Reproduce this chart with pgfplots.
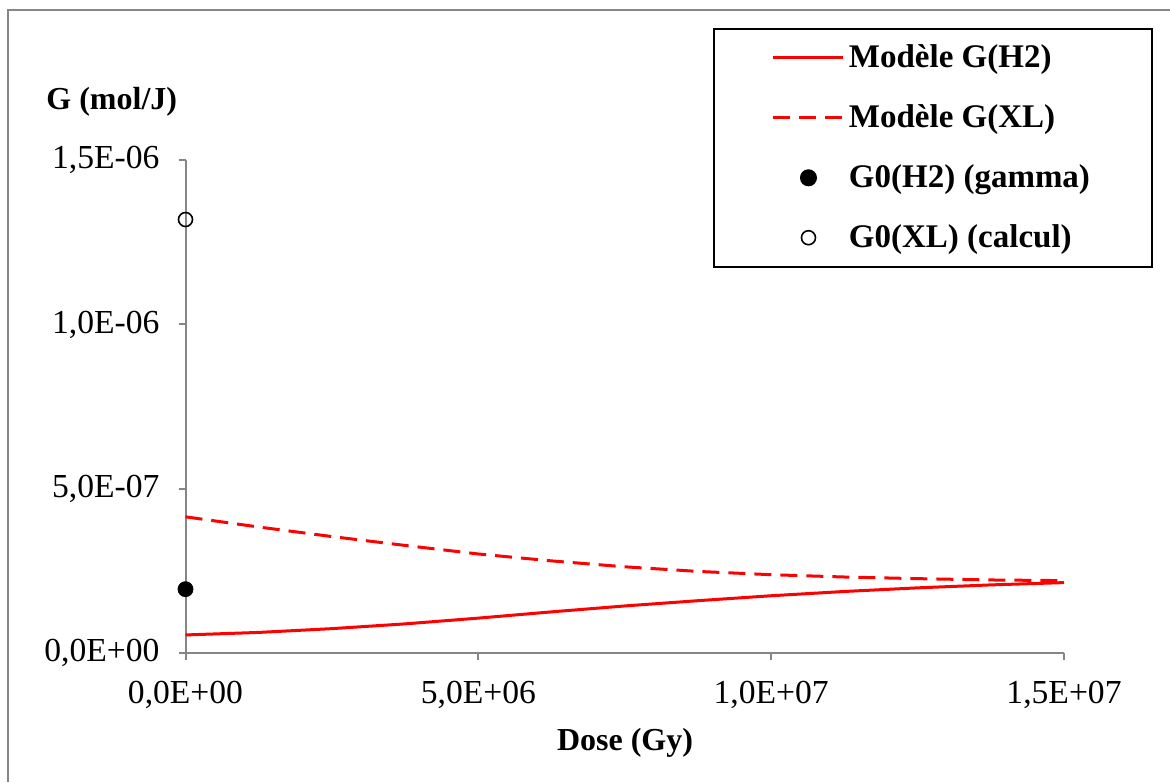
\documentclass[border=0pt]{standalone}
\usepackage{fontspec}
\setmainfont{Liberation Serif}
\usepackage{pgfplots}
\pgfplotsset{compat=1.18}
\definecolor{axgray}{HTML}{868686}

\begin{document}
\begin{tikzpicture}
\useasboundingbox (0,0) rectangle (585pt,391pt);
% cropped outer frame
\draw[axgray, line width=1pt] (4pt,0) -- (4pt,386pt) -- (585pt,386pt);

\begin{axis}[
    at={(92.75pt,64.35pt)}, anchor=south west,
    scale only axis, width=439.25pt, height=246.65pt,
    xmin=0, xmax=1.5e7, ymin=0, ymax=1.5e-6,
    axis x line*=bottom, axis y line*=left,
    axis line style={axgray, line width=1pt, -},
    tick style={axgray, line width=1pt},
    tick align=outside, major tick length=3.5pt,
    scaled ticks=false,
    xtick={0,5e6,1e7,1.5e7},
    xticklabels={{0,0E+00},{5,0E+06},{1,0E+07},{1,5E+07}},
    ytick={0,5e-7,1e-6,1.5e-6},
    yticklabels={{0,0E+00},{5,0E-07},{1,0E-06},{1,5E-06}},
    ticklabel style={font=\fontsize{16.8}{19}\selectfont, text=black},
    xticklabel style={yshift=-7pt},
    yticklabel style={xshift=-6pt},
    clip=false,
    legend style={at={(1.1013,1.2676)}, anchor=north east,
        draw=black, line width=1pt, inner xsep=29pt, inner ysep=6pt,
        font=\bfseries\fontsize{16.5}{19}\selectfont, row sep=13pt},
    legend cell align=left,
    legend image code/.code={\draw[mark repeat=2,mark phase=2,#1]
        plot coordinates {(0pt,0pt) (17.5pt,0pt) (35pt,0pt)};},
]
\addplot[red, line width=1.5pt] coordinates {
    (0,5.58e-8) (1.25e6,6.35e-8) (2.5e6,7.5e-8) (3.75e6,8.95e-8)
    (5e6,1.07e-7) (6.25e6,1.26e-7) (7.5e6,1.44e-7) (8.75e6,1.60e-7)
    (1e7,1.75e-7) (1.125e7,1.88e-7) (1.25e7,1.99e-7) (1.375e7,2.08e-7)
    (1.5e7,2.15e-7)};
\addlegendentry{Modèle G(H2)}
\addplot[red, line width=1.5pt, dash pattern=on 8.5pt off 4.5pt] coordinates {
    (0,4.15e-7) (1.25e6,3.84e-7) (2.5e6,3.55e-7) (3.75e6,3.28e-7)
    (5e6,3.02e-7) (6.25e6,2.81e-7) (7.5e6,2.63e-7) (8.75e6,2.49e-7)
    (1e7,2.39e-7) (1.125e7,2.32e-7) (1.25e7,2.27e-7) (1.375e7,2.23e-7)
    (1.5e7,2.21e-7)};
\addlegendentry{Modèle G(XL)}
\addplot[only marks, mark=*, mark size=3.75pt, black] coordinates {(0,1.95e-7)};
\addlegendentry{G0(H2) (gamma)}
\addplot[only marks, mark=o, mark size=3.5pt, black, line width=0.8pt,
    mark options={fill=white}] coordinates {(0,1.319e-6)};
\addlegendentry{G0(XL) (calcul)}
\end{axis}

\node[anchor=base west, inner sep=0pt, font=\bfseries\fontsize{16}{19}\selectfont] at (23pt,336pt) {G (mol/J)};
\node[anchor=base, inner sep=0pt, font=\bfseries\fontsize{16}{19}\selectfont] at (312.5pt,16pt) {Dose (Gy)};
\end{tikzpicture}
\end{document}
